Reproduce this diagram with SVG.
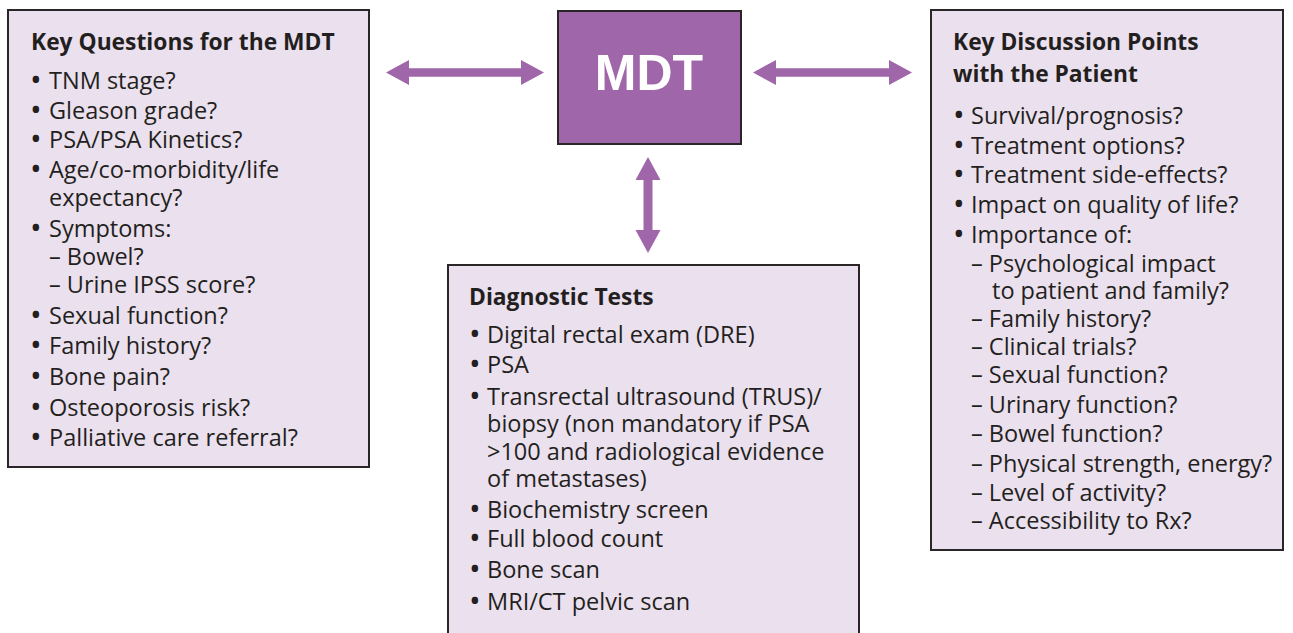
<svg xmlns="http://www.w3.org/2000/svg" width="1293" height="633" viewBox="0 0 1293 633">
<style>
.box{fill:#ebe0ee;stroke:#2a2627;stroke-width:2}
.mdt{fill:#a066aa;stroke:#2a2627;stroke-width:2}
.arrow{fill:#a066aa}
text{font-family:"Open Sans","Noto Sans",sans-serif;font-size:23.5px;fill:#231f20}
.title{font-weight:bold;font-size:22.8px}
.b{font-size:31px}
.big{font-family:"Liberation Sans",Arial,sans-serif;font-size:50px;font-weight:bold;fill:#ffffff}
</style>
<rect width="1293" height="633" fill="#ffffff"/>
<g id="connectors">
<polygon class="arrow" points="386,72.5 409,60 409,68.3 521,68.3 521,60 544,72.5 521,85 521,76.7 409,76.7 409,85"/>
<polygon class="arrow" points="753,72.5 776,60 776,68.3 889,68.3 889,60 912,72.5 889,85 889,76.7 776,76.7 776,85"/>
<polygon class="arrow" points="648,157 660.5,180 652.5,180 652.5,230 660.5,230 648,253 635.5,230 643.5,230 643.5,180 635.5,180"/>
</g>
<g id="mdt">
<rect class="mdt" x="558" y="11" width="183" height="133"/>
<text class="big" x="649" y="90" text-anchor="middle">MDT</text>
</g>
<g id="key-questions">
<rect class="box" x="8" y="10" width="361" height="457"/>
<text class="title" x="31" y="50">Key Questions for the MDT</text>
<text x="30" y="91"><tspan class="b">•</tspan><tspan x="49" dy="-2">TNM stage?</tspan></text>
<text x="30" y="121"><tspan class="b">•</tspan><tspan x="49" dy="-2">Gleason grade?</tspan></text>
<text x="30" y="150"><tspan class="b">•</tspan><tspan x="49" dy="-2">PSA/PSA Kinetics?</tspan></text>
<text x="30" y="180"><tspan class="b">•</tspan><tspan x="49" dy="-2">Age/co-morbidity/life</tspan></text>
<text x="49" y="206">expectancy?</text>
<text x="30" y="239"><tspan class="b">•</tspan><tspan x="49" dy="-2">Symptoms:</tspan></text>
<text x="49" y="265">– Bowel?</text>
<text x="49" y="293">– Urine IPSS score?</text>
<text x="30" y="326"><tspan class="b">•</tspan><tspan x="49" dy="-2">Sexual function?</tspan></text>
<text x="30" y="356"><tspan class="b">•</tspan><tspan x="49" dy="-2">Family history?</tspan></text>
<text x="30" y="387"><tspan class="b">•</tspan><tspan x="49" dy="-2">Bone pain?</tspan></text>
<text x="30" y="418"><tspan class="b">•</tspan><tspan x="49" dy="-2">Osteoporosis risk?</tspan></text>
<text x="30" y="448"><tspan class="b">•</tspan><tspan x="49" dy="-2">Palliative care referral?</tspan></text>
</g>
<g id="diagnostic-tests">
<rect class="box" x="448" y="265" width="411" height="380"/>
<text class="title" x="469" y="305">Diagnostic Tests</text>
<text x="469" y="345"><tspan class="b">•</tspan><tspan x="487" dy="-2">Digital rectal exam (DRE)</tspan></text>
<text x="469" y="375"><tspan class="b">•</tspan><tspan x="487" dy="-2">PSA</tspan></text>
<text x="469" y="407"><tspan class="b">•</tspan><tspan x="487" dy="-2">Transrectal ultrasound (TRUS)/</tspan></text>
<text x="487" y="432">biopsy (non mandatory if PSA</text>
<text x="487" y="460">&gt;100 and radiological evidence</text>
<text x="487" y="487">of metastases)</text>
<text x="469" y="520"><tspan class="b">•</tspan><tspan x="487" dy="-2">Biochemistry screen</tspan></text>
<text x="469" y="549"><tspan class="b">•</tspan><tspan x="487" dy="-2">Full blood count</tspan></text>
<text x="469" y="580"><tspan class="b">•</tspan><tspan x="487" dy="-2">Bone scan</tspan></text>
<text x="469" y="612"><tspan class="b">•</tspan><tspan x="487" dy="-2">MRI/CT pelvic scan</tspan></text>
</g>
<g id="key-discussion">
<rect class="box" x="931" y="10" width="352" height="540"/>
<text class="title" x="953" y="50">Key Discussion Points</text>
<text class="title" x="953" y="82">with the Patient</text>
<text x="953" y="126"><tspan class="b">•</tspan><tspan x="971" dy="-2">Survival/prognosis?</tspan></text>
<text x="953" y="156"><tspan class="b">•</tspan><tspan x="971" dy="-2">Treatment options?</tspan></text>
<text x="953" y="185"><tspan class="b">•</tspan><tspan x="971" dy="-2">Treatment side-effects?</tspan></text>
<text x="953" y="215"><tspan class="b">•</tspan><tspan x="971" dy="-2">Impact on quality of life?</tspan></text>
<text x="953" y="245"><tspan class="b">•</tspan><tspan x="971" dy="-2">Importance of:</tspan></text>
<text x="971" y="272">– Psychological impact</text>
<text x="992" y="299">to patient and family?</text>
<text x="971" y="327">– Family history?</text>
<text x="971" y="355">– Clinical trials?</text>
<text x="971" y="383">– Sexual function?</text>
<text x="971" y="413">– Urinary function?</text>
<text x="971" y="442">– Bowel function?</text>
<text x="971" y="472">– Physical strength, energy?</text>
<text x="971" y="501">– Level of activity?</text>
<text x="971" y="529">– Accessibility to Rx?</text>
</g>
</svg>
